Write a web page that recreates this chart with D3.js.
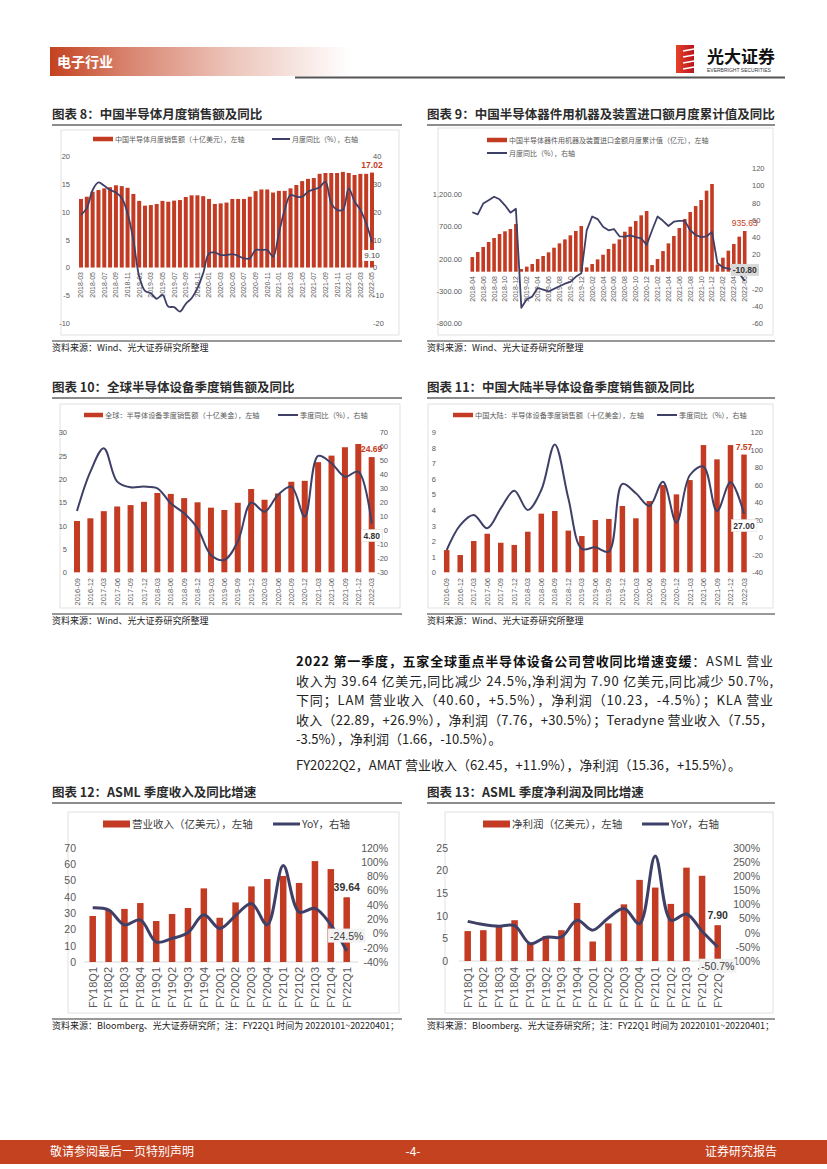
<!DOCTYPE html>
<html><head><meta charset="utf-8">
<script src="https://cdn.jsdelivr.net/npm/d3@7"></script>
<style>body{margin:0;background:#fff}svg{display:block}</style>
</head><body>
<svg id="page" width="827" height="1169"></svg>
<script>
// ---------------- DATA ----------------
const c8Months = ["2018-03","2018-04","2018-05","2018-06","2018-07","2018-08","2018-09","2018-10","2018-11","2018-12",
"2019-01","2019-02","2019-03","2019-04","2019-05","2019-06","2019-07","2019-08","2019-09","2019-10","2019-11","2019-12",
"2020-01","2020-02","2020-03","2020-04","2020-05","2020-06","2020-07","2020-08","2020-09","2020-10","2020-11","2020-12",
"2021-01","2021-02","2021-03","2021-04","2021-05","2021-06","2021-07","2021-08","2021-09","2021-10","2021-11","2021-12",
"2022-01","2022-02","2022-03","2022-04","2022-05"];
const c8Sales = [12.3,12.7,13.6,13.9,14.2,14.4,14.75,14.6,14.3,13.2,11.95,11.1,11.2,11.4,11.95,11.8,12.0,12.1,12.65,12.95,
12.95,12.8,12.3,11.4,11.5,11.65,12.3,12.3,12.3,12.7,13.7,14.0,14.0,13.45,13.75,13.75,14.2,14.8,15.5,15.9,
16.05,16.8,16.95,16.95,16.95,17.15,16.95,16.6,16.8,16.8,17.02];
const c8Yoy = [18.9,21.3,27.8,30.5,29.3,27.8,26.9,24.9,19.5,9.9,-3.2,-8.4,-9.2,-11.2,-9.8,-14,-14.2,-15.8,-13,-11,
-7.4,-2,5.1,5.4,4.5,4.5,4.8,4.2,3.3,3.3,6.3,6.3,6.3,3.9,12.3,20.7,26,25.4,25.4,27.2,
28,28.8,30.8,23,20.7,20.7,28.4,23.7,20.7,15.9,9.1];
const c8TicksL = [-10,-5,0,5,10,15,20];
const c8TicksR = [-20,-10,0,10,20,30,40];

const c9Months = ["2018-04","2018-05","2018-06","2018-07","2018-08","2018-09","2018-10","2018-11","2018-12",
"2019-01","2019-02","2019-03","2019-04","2019-05","2019-06","2019-07","2019-08","2019-09","2019-10","2019-11","2019-12",
"2020-01","2020-02","2020-03","2020-04","2020-05","2020-06","2020-07","2020-08","2020-09","2020-10","2020-11","2020-12",
"2021-01","2021-02","2021-03","2021-04","2021-05","2021-06","2021-07","2021-08","2021-09","2021-10","2021-11","2021-12",
"2022-01","2022-02","2022-03","2022-04","2022-05","2022-06"];
const c9Import = [227,305,383,460,522,584,626,662,739,
41,78,119,196,243,300,372,439,501,564,631,708,
67,119,191,264,352,434,501,620,698,786,874,941,
103,196,320,439,553,677,817,925,1018,1112,1256,1360,
110,217,326,429,543,631];
const c9Yoy = [69,66.5,79,83,87,84,77,68.5,73,
-42,-32,-29,-19,-21,-23,-20,-17,-14,-12,-6,-2,
48,64,61,52,48,49.5,41,40.6,42,40,38.7,31,
48,64,59,53,58,59,59,48,42.5,40,41,46,
9.7,5,3.5,2,-2,-10.8];
const c9LastLabel = 935.63;
const c9TicksL = [-800,-300,200,700,1200];
const c9TicksR = [-60,-40,-20,0,20,40,60,80,100,120];

const c10Quarters = ["2016-09","2016-12","2017-03","2017-06","2017-09","2017-12","2018-03","2018-06","2018-09","2018-12",
"2019-03","2019-06","2019-09","2019-12","2020-03","2020-06","2020-09","2020-12","2021-03","2021-06","2021-09","2021-12","2022-03"];
const c10Sales = [11.0,11.57,13.1,14.1,14.4,15.1,17.0,16.8,15.9,15.0,13.85,13.35,14.9,17.85,15.55,16.9,19.4,19.6,23.6,25.0,26.8,27.5,24.69];
const c10Yoy = [13.8,41.9,58.6,34.8,30.7,31.2,30,19.3,12.1,1.4,-17.6,-21.2,-8.1,19.8,13.3,25.2,31.2,9.8,53.1,47.9,38.3,41.9,4.8];
const c10TicksL = [0,5,10,15,20,25,30];
const c10TicksR = [-30,-20,-10,0,10,20,30,40,50,60,70];

const c11Quarters = c10Quarters.slice();
const c11Sales = [1.43,1.11,2.01,2.48,1.9,1.76,2.61,3.77,3.94,2.68,2.33,3.36,3.43,4.26,3.47,4.58,5.61,5.01,5.93,8.18,7.26,8.18,7.57];
const c11Yoy = [-14.5,14,25.5,10.3,33,53.3,31.2,54,106,44.6,-13.3,-11.4,-16.4,61,50.3,35.8,63.6,16.8,71.2,80.8,30,62.9,27];
const c11TicksL = [0,1,2,3,4,5,6,7,8,9];
const c11TicksR = [-40,-20,0,20,40,60,80,100,120];

const asmlQuarters = ["FY18Q1","FY18Q2","FY18Q3","FY18Q4","FY19Q1","FY19Q2","FY19Q3","FY19Q4","FY20Q1","FY20Q2","FY20Q3","FY20Q4",
"FY21Q1","FY21Q2","FY21Q3","FY21Q4","FY22Q1"];
const c12Revenue = [28.2,31.8,32.5,36.1,25.1,29.4,33.1,45.1,27.1,36.5,46.3,50.8,52.7,48.4,61.8,56.9,39.64];
const c12Yoy = [36,33,12,19,-12,-7,1,26,7,25,42,12,95,30,35,12,-24.5];
const c12TicksL = [0,10,20,30,40,50,60,70];
const c12TicksR = [-40,-20,0,20,40,60,80,100,120];

const c13NetIncome = [6.6,6.8,7.8,9.0,4.0,5.5,6.8,12.8,4.3,8.3,12.5,17.9,16.2,12.6,20.6,18.8,7.90];
const c13Yoy = [40,29,23,25,-39,-16,-15,44,9,52,85,32,271,44,66,5,-50.7];
const c13TicksL = [0,5,10,15,20,25];
const c13TicksR = [-100,-50,0,50,100,150,200,250,300];

// ---------------- DRAW ----------------
const svg = d3.select("#page");
const LAT = "'Liberation Sans','Noto Sans CJK SC',sans-serif";
const CJK = "'Noto Sans CJK SC','Liberation Sans',sans-serif";
const RED = "#C23B22", NAVY = "#3F4068", GRAY = "#595959";
const loc = d3.formatLocale({decimal:".",thousands:",",grouping:[3],currency:["",""],minus:"-"});

// header
const defs = svg.append("defs");
const hg = defs.append("linearGradient").attr("id","hdr").attr("x1","0").attr("x2","1");
hg.append("stop").attr("offset","0").attr("stop-color","#C4421F");
hg.append("stop").attr("offset","0.25").attr("stop-color","#D8826D");
hg.append("stop").attr("offset","0.6").attr("stop-color","#ECC4B9");
hg.append("stop").attr("offset","1").attr("stop-color","#ffffff");
svg.append("rect").attr("x",50).attr("y",47).attr("width",300).attr("height",29).attr("fill","url(#hdr)");
svg.append("text").attr("x",57).attr("y",67).text("电子行业").attr("font-family",CJK).attr("font-weight","bold")
  .attr("font-size",14).attr("fill","#fff");
svg.append("line").attr("x1",295).attr("x2",785).attr("y1",77.5).attr("y2",77.5).attr("stroke","#555").attr("stroke-width",2);
const lg = defs.append("linearGradient").attr("id","logo").attr("x1","0").attr("x2","1");
lg.append("stop").attr("offset","0").attr("stop-color","#E8412A");
lg.append("stop").attr("offset","1").attr("stop-color","#B8151C");
svg.append("rect").attr("x",676).attr("y",45).attr("width",18).attr("height",28).attr("fill","url(#logo)");
[51,57,63,69].forEach(yy=>svg.append("line").attr("x1",683).attr("x2",694).attr("y1",yy).attr("y2",yy-2)
  .attr("stroke","#fff").attr("stroke-width",1.3));
svg.append("text").attr("x",707).attr("y",63).text("光大证券").attr("font-family",CJK).attr("font-weight","bold")
  .attr("font-size",17).attr("fill","#111");
svg.append("text").attr("x",707).attr("y",71.5).text("EVERBRIGHT SECURITIES").attr("font-family",LAT)
  .attr("font-size",5).attr("fill","#333");

function boxLabel(g, x, y, txt, o){
  const t = g.append("text").attr("x",x).attr("y",y).attr("text-anchor","middle").attr("dy","0.35em")
    .attr("font-family",LAT).attr("font-size",o.size).attr("font-weight",o.bold?"bold":"normal")
    .attr("fill",o.color||"#333").text(txt);
  if(o.box){
    const bb = t.node().getBBox();
    g.insert("rect", () => t.node()).attr("x",bb.x-2).attr("y",bb.y-1).attr("width",bb.width+4).attr("height",bb.height+2)
      .attr("fill",o.box).attr("stroke",o.boxStroke||"none").attr("stroke-width",0.6);
  }
}

function combo(o){
  const g = svg.append("g");
  // title
  g.append("text").attr("x",o.left).attr("y",o.titleY).text(o.title).attr("font-family",CJK)
    .attr("font-weight","bold").attr("font-size",12.5).attr("fill","#2b2b2b");
  g.append("line").attr("x1",o.left).attr("x2",o.right).attr("y1",o.titleY+6).attr("y2",o.titleY+6)
    .attr("stroke","#666").attr("stroke-width",1.6);
  // frame
  g.append("rect").attr("x",o.frame[0]).attr("y",o.frame[1]).attr("width",o.frame[2]).attr("height",o.frame[3])
    .attr("fill","none").attr("stroke","#d9d9d9").attr("stroke-width",0.8);
  // legend
  o.legend.forEach(L=>{
    if(L.type==="bar") g.append("rect").attr("x",L.x).attr("y",L.y-L.h/2).attr("width",L.w).attr("height",L.h).attr("fill",RED);
    else g.append("line").attr("x1",L.x).attr("x2",L.x+L.w).attr("y1",L.y).attr("y2",L.y).attr("stroke",NAVY).attr("stroke-width",L.h);
    g.append("text").attr("x",L.x+L.w+2).attr("y",L.y).attr("dy","0.36em").text(L.text).attr("font-family",CJK)
      .attr("font-size",L.fs).attr("fill",L.color||GRAY);
  });
  // scales
  const x = d3.scalePoint().domain(o.cats).range(o.xr);
  const yL = d3.scaleLinear().domain(o.domL).range(o.yr);
  const yR = d3.scaleLinear().domain(o.domR).range(o.yr);
  // axis line
  if(o.axisLine) g.append("line").attr("x1",o.axisLine[0]).attr("x2",o.axisLine[1]).attr("y1",yL(0)).attr("y2",yL(0))
    .attr("stroke","#d9d9d9").attr("stroke-width",1);
  // bars
  g.selectAll(".bar").data(o.bars).join("rect")
    .attr("x",(d,i)=>x(o.cats[i])-o.bw/2).attr("width",o.bw)
    .attr("y",d=>Math.min(yL(d),yL(0))).attr("height",d=>Math.abs(yL(d)-yL(0))).attr("fill",RED);
  // x labels
  const xl = o.cats.filter((d,i)=>i%o.every===0);
  g.selectAll(".xl").data(xl).join("text")
    .attr("transform",d=>`translate(${x(d)},${o.xLabelY}) rotate(-90)`)
    .attr("text-anchor","end").attr("dy","0.35em").text(d=>d)
    .attr("font-family",LAT).attr("font-size",o.xfs).attr("fill",GRAY);
  // line
  const line = d3.line().x((d,i)=>x(o.cats[i])).y(d=>yR(d)).curve(o.curve || d3.curveCatmullRom.alpha(0.5));
  g.append("path").datum(o.line).attr("d",line).attr("fill","none").attr("stroke",NAVY)
    .attr("stroke-width",o.lw).attr("stroke-linejoin","round");
  // axes
  const aL = g.append("g").attr("transform",`translate(${o.tickLX},0)`)
    .call(d3.axisLeft(yL).tickValues(o.ticksL).tickFormat(o.fmtL).tickSize(0).tickPadding(0));
  const aR = g.append("g").attr("transform",`translate(${o.tickRX},0)`)
    .call(d3.axisRight(yR).tickValues(o.ticksR).tickFormat(o.fmtR).tickSize(0).tickPadding(0));
  [aL,aR].forEach(a=>{a.select(".domain").remove(); a.attr("font-family",LAT).attr("font-size",o.tfs);
    a.selectAll("text").attr("fill",GRAY);});
  aR.attr("text-anchor",o.rAnchor||"start");
  // data labels
  const n = o.bars.length - 1, xe = x(o.cats[n]);
  boxLabel(g, xe+(o.barLabDx||0), yL(o.bars[n]) + o.barLabDy, o.barLabText || o.fmtBar(o.bars[n]), o.barLab);
  boxLabel(g, xe+(o.lineLabDx||0), yR(o.line[n]) + o.lineLabDy, o.fmtLine(o.line[n]), o.lineLab);
  // source
  g.append("line").attr("x1",o.left).attr("x2",o.right).attr("y1",o.srcY-8).attr("y2",o.srcY-8)
    .attr("stroke","#333").attr("stroke-width",1.2);
  g.append("text").attr("x",o.left).attr("y",o.srcY+2).text(o.src).attr("font-family",CJK)
    .attr("font-size",9).attr("fill","#222");
}

const SRC1 = "资料来源：Wind、光大证券研究所整理";
const SRC2 = "资料来源：Bloomberg、光大证券研究所；注：FY22Q1 时间为 20220101~20220401；";
const f0 = d3.format("d");

// Chart 8
combo({left:52,right:402,titleY:119,title:"图表 8：中国半导体月度销售额及同比",frame:[61,130,338,205],
  legend:[{type:"bar",x:93,y:139,w:20,h:4.5,text:"中国半导体月度销售额（十亿美元），左轴",fs:7},
          {type:"line",x:272,y:139,w:18,h:2,text:"月度同比（%），右轴",fs:7}],
  cats:c8Months,bars:c8Sales,line:c8Yoy,xr:[81,372],yr:[323.3,156],domL:[-10,20],domR:[-20,40],
  bw:4,every:2,xLabelY:272,xfs:7,lw:1.8,tickLX:70,tickRX:373,ticksL:c8TicksL,ticksR:c8TicksR,
  fmtL:loc.format("d"),fmtR:loc.format("d"),tfs:7.5,
  fmtBar:d3.format(".2f"),fmtLine:d3.format(".2f"),barLabDy:-8,lineLabDy:13,
  barLab:{size:8.5,bold:true,color:RED},lineLab:{size:8,color:"#444",box:"#fff"},
  srcY:349,src:SRC1});

// Chart 9
combo({left:427,right:775,titleY:119,title:"图表 9：中国半导体器件用机器及装置进口额月度累计值及同比",frame:[438,128,335,207],
  legend:[{type:"bar",x:487,y:140,w:20,h:4.5,text:"中国半导体器件用机器及装置进口金额月度累计值（亿元），左轴",fs:7},
          {type:"line",x:487,y:153,w:20,h:2,text:"月度同比（%），右轴",fs:7}],
  cats:c9Months,bars:c9Import,line:c9Yoy,xr:[472.3,744.7],yr:[323.3,168.3],domL:[-800,1603],domR:[-60,120],
  bw:3.6,every:2,xLabelY:276,xfs:7,lw:1.8,tickLX:462,tickRX:752,ticksL:c9TicksL,ticksR:c9TicksR,
  fmtL:loc.format(",.2f"),fmtR:loc.format("d"),tfs:7.5,curve:d3.curveLinear,
  fmtBar:d3.format(".2f"),barLabText:d3.format(".2f")(c9LastLabel),fmtLine:loc.format(".2f"),barLabDy:-8,lineLabDy:-11,
  barLab:{size:8.5,color:RED},lineLab:{size:8.5,bold:true,color:"#333",box:"#d9d9d9"},
  srcY:349,src:SRC1});

// Chart 10
combo({left:52,right:402,titleY:392,title:"图表 10：全球半导体设备季度销售额及同比",frame:[60,404,340,204],
  legend:[{type:"bar",x:84,y:415,w:19,h:4.5,text:"全球：半导体设备季度销售额（十亿美金），左轴",fs:7.2},
          {type:"line",x:278,y:415,w:20,h:2,text:"季度同比（%），右轴",fs:7.2}],
  cats:c10Quarters,bars:c10Sales,line:c10Yoy,xr:[77,371.7],yr:[572.3,432.3],domL:[0,30],domR:[-30,70],
  bw:6,every:1,xLabelY:578,xfs:7.5,lw:2,tickLX:67,tickRX:388,rAnchor:"end",ticksL:c10TicksL,ticksR:c10TicksR,
  fmtL:loc.format("d"),fmtR:loc.format("d"),tfs:7.5,
  fmtBar:d3.format(".2f"),fmtLine:d3.format(".2f"),barLabDy:-8,lineLabDy:12,
  barLab:{size:8.5,bold:true,color:RED},lineLab:{size:8.5,bold:true,color:"#333",box:"#fff",boxStroke:"#ddd"},
  srcY:622,src:SRC1});

// Chart 11
combo({left:427,right:775,titleY:392,title:"图表 11：中国大陆半导体设备季度销售额及同比",frame:[428,404,345,204],
  legend:[{type:"bar",x:453,y:415,w:20,h:4.5,text:"中国大陆：半导体设备季度销售额（十亿美金），左轴",fs:7.2},
          {type:"line",x:657,y:415,w:20,h:2,text:"季度同比（%），右轴",fs:7.2}],
  cats:c11Quarters,bars:c11Sales,line:c11Yoy,xr:[446.7,744],yr:[572.3,432.3],domL:[0,9],domR:[-40,120],
  bw:5.5,every:1,xLabelY:578,xfs:7.5,lw:2,tickLX:436,tickRX:763,rAnchor:"end",ticksL:c11TicksL,ticksR:c11TicksR,
  fmtL:loc.format("d"),fmtR:loc.format("d"),tfs:7.5,
  fmtBar:d3.format(".2f"),fmtLine:d3.format(".2f"),barLabDy:-8,lineLabDy:12,
  barLab:{size:8.5,bold:true,color:RED},lineLab:{size:8.5,bold:true,color:"#333",box:"#fff",boxStroke:"#ddd"},
  srcY:622,src:SRC1});

// Chart 12
combo({left:52,right:402,titleY:797,title:"图表 12：ASML 季度收入及同比增速",frame:[68,812,331,201],
  legend:[{type:"bar",x:103,y:824,w:27,h:7,text:"营业收入（亿美元），左轴",fs:10.5,color:"#404040"},
          {type:"line",x:273,y:824,w:27,h:3,text:"YoY，右轴",fs:10.5,color:"#404040"}],
  cats:asmlQuarters,bars:c12Revenue,line:c12Yoy,xr:[92.7,346.7],yr:[962,847.7],domL:[0,70],domR:[-40,120],
  axisLine:[84,358],bw:6.5,every:1,xLabelY:967,xfs:11,lw:3,tickLX:76,tickRX:388,rAnchor:"end",
  ticksL:c12TicksL,ticksR:c12TicksR,fmtL:loc.format("d"),fmtR:d=>loc.format("d")(d)+"%",tfs:10.5,
  fmtBar:d3.format(".2f"),fmtLine:d=>loc.format(".1f")(d)+"%",barLabDy:-10,lineLabDy:-15,
  barLab:{size:10.5,bold:true,color:"#333"},lineLab:{size:10.5,color:"#404040",box:"#f2f2f2"},
  srcY:1027,src:SRC2});

// Chart 13
combo({left:427,right:775,titleY:797,title:"图表 13：ASML 季度净利润及同比增速",frame:[445,812,328,201],
  legend:[{type:"bar",x:483,y:824,w:27,h:7,text:"净利润（亿美元），左轴",fs:10.5,color:"#404040"},
          {type:"line",x:642,y:824,w:27,h:3,text:"YoY，右轴",fs:10.5,color:"#404040"}],
  cats:asmlQuarters,bars:c13NetIncome,line:c13Yoy,xr:[467.7,717.7],yr:[961,847.7],domL:[0,25],domR:[-100,300],
  axisLine:[459,730],bw:6.5,every:1,xLabelY:967,xfs:11,lw:3,tickLX:448,tickRX:760,rAnchor:"end",
  ticksL:c13TicksL,ticksR:c13TicksR,fmtL:loc.format("d"),fmtR:d=>loc.format("d")(d)+"%",tfs:10.5,
  fmtBar:d3.format(".2f"),fmtLine:d=>loc.format(".1f")(d)+"%",barLabDy:-10,lineLabDy:19,
  barLab:{size:10.5,bold:true,color:"#333"},lineLab:{size:10.5,color:"#404040",box:"#f2f2f2"},
  srcY:1027,src:SRC2});

// paragraph
const para = svg.append("g").attr("font-family",CJK).attr("font-size",13).attr("fill","#222");
const pX = 296, pW = 477;
const t1 = para.append("text").attr("x",pX).attr("y",666).attr("textLength",pW).attr("lengthAdjust","spacing");
t1.append("tspan").attr("font-weight","bold").attr("fill","#111").text("2022 第一季度，五家全球重点半导体设备公司营收同比增速变缓");
t1.append("tspan").text("：ASML 营业");
const paraLines = [
  ["收入为 39.64 亿美元,同比减少 24.5%,净利润为 7.90 亿美元,同比减少 50.7%,",685.5,true],
  ["下同；LAM 营业收入（40.60，+5.5%），净利润（10.23，-4.5%）；KLA 营业",705,true],
  ["收入（22.89，+26.9%），净利润（7.76，+30.5%）；Teradyne 营业收入（7.55，",724.5,true],
  ["-3.5%），净利润（1.66，-10.5%）。",744,false],
  ["FY2022Q2，AMAT 营业收入（62.45，+11.9%），净利润（15.36，+15.5%）。",770,false]];
paraLines.forEach(([s,y,j])=>{
  const t = para.append("text").attr("x",pX).attr("y",y).text(s);
  if(j) t.attr("textLength",pW).attr("lengthAdjust","spacing");
});

// footer
svg.append("rect").attr("x",0).attr("y",1140).attr("width",827).attr("height",24).attr("fill","#C4421F");
const ft = svg.append("g").attr("font-family",CJK).attr("font-size",12).attr("fill","#fff");
ft.append("text").attr("x",50).attr("y",1156).text("敬请参阅最后一页特别声明");
ft.append("text").attr("x",413).attr("y",1156).attr("text-anchor","middle").text("-4-");
ft.append("text").attr("x",777).attr("y",1156).attr("text-anchor","end").text("证券研究报告");
</script>
</body></html>
